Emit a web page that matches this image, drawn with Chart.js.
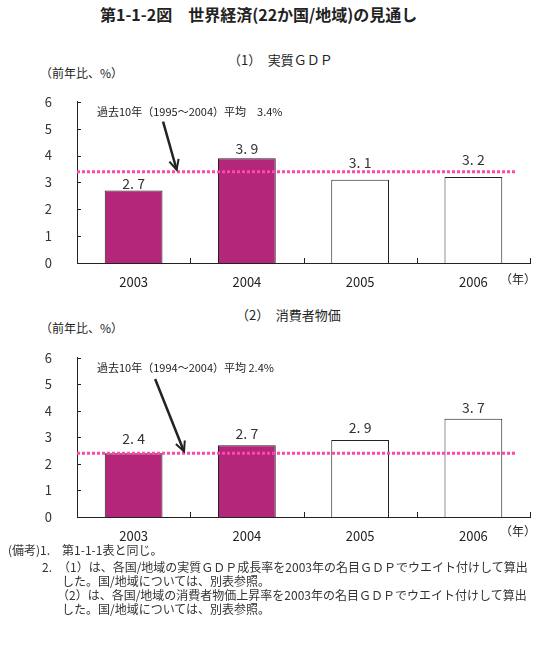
<!DOCTYPE html>
<html>
<head>
<meta charset="utf-8">
<script src="https://cdn.jsdelivr.net/npm/chart.js@4.4.1/dist/chart.umd.min.js"></script>
<style>
body { margin: 0; background: #fff; width: 537px; height: 655px; position: relative; overflow: hidden;
       font-family: "Noto Sans CJK JP", sans-serif; color: #222; }
.t { position: absolute; white-space: nowrap; line-height: 1; }
canvas { position: absolute; left: 0; }
.note { font-size: 12px; color: #333; }
</style>
</head>
<body>
<div class="t" style="left:100px;top:6px;font-size:16px;font-weight:bold">第1-1-2図　世界経済(22か国/地域)の見通し</div>

<div class="t" style="left:228px;top:53px;font-size:13px">（1）　実質ＧＤＰ</div>
<div class="t" style="left:40px;top:67px;font-size:12px">（前年比、%）</div>
<canvas id="gdp" width="537" height="223" style="top:77px"></canvas>
<div class="t" style="left:500px;top:273px;font-size:12px">（年）</div>

<div class="t" style="left:236px;top:308px;font-size:13px">（2）　消費者物価</div>
<div class="t" style="left:40px;top:322px;font-size:12px">（前年比、%）</div>
<canvas id="cpi" width="537" height="222" style="top:333px"></canvas>
<div class="t" style="left:500px;top:525px;font-size:12px">（年）</div>

<div class="t note" style="left:8px;top:544px">(備考)1.　第1-1-1表と同じ。</div>
<div class="t note" style="left:42px;top:561px">2.　（1）は、各国/地域の実質ＧＤＰ成長率を2003年の名目ＧＤＰでウエイト付けして算出</div>
<div class="t note" style="left:62px;top:575px">した。国/地域については、別表参照。</div>
<div class="t note" style="left:57px;top:589px">（2）は、各国/地域の消費者物価上昇率を2003年の名目ＧＤＰでウエイト付けして算出</div>
<div class="t note" style="left:62px;top:603px">した。国/地域については、別表参照。</div>

<script>
const years = ['2003', '2004', '2005', '2006'];
const gdpGrowth = [2.7, 3.9, 3.1, 3.2];
const cpiGrowth = [2.4, 2.7, 2.9, 3.7];
const gdpAvg = 3.4;
const cpiAvg = 2.4;
const gdpAvgText = '過去10年（1995～2004）平均　3.4%';
const cpiAvgText = '過去10年（1994～2004）平均 2.4%';
const actualYears = 2; // 2003, 2004 are results, the rest forecasts

const FONT = '"Noto Sans CJK JP", sans-serif';

// inner ticks, value labels, average line, arrow and its note
const extras = {
    id: 'extras',
    afterDatasetsDraw(chart, args, o) {
        const { ctx, chartArea: a, scales: { x, y } } = chart;
        ctx.save();
        ctx.strokeStyle = '#222';
        ctx.lineWidth = 1;
        y.ticks.forEach((t, i) => {
            const py = Math.round(y.getPixelForTick(i)) + 0.5;
            ctx.beginPath(); ctx.moveTo(a.left, py); ctx.lineTo(a.left + 4, py); ctx.stroke();
        });
        for (let i = 1; i <= years.length; i++) {
            const px = Math.round(x.getPixelForValue(i - 0.5)) + 0.5;
            ctx.beginPath(); ctx.moveTo(px, a.bottom); ctx.lineTo(px, a.bottom - 5); ctx.stroke();
        }

        // values above bars (lifted clear of the average line where needed)
        ctx.fillStyle = '#333';
        ctx.font = '14px ' + FONT;
        ctx.textAlign = 'center';
        ctx.textBaseline = 'middle';
        chart.getDatasetMeta(0).data.forEach((bar, i) => {
            const v = chart.data.datasets[0].data[i];
            ctx.fillText(v.toFixed(1).replace('.', '. '), bar.x, bar.y - o.lift[i]);
        });

        // 10-year average
        const ay = y.getPixelForValue(o.avg);
        ctx.strokeStyle = '#ff48a8';
        ctx.lineWidth = 3;
        ctx.setLineDash([3, 2]);
        ctx.beginPath(); ctx.moveTo(a.left, ay); ctx.lineTo(a.right - 14, ay); ctx.stroke();
        ctx.setLineDash([]);

        // arrow
        const x0 = x.getPixelForValue(o.arrow[0]), y0 = y.getPixelForValue(o.arrow[1]);
        const x1 = x.getPixelForValue(o.arrow[2]), y1 = y.getPixelForValue(o.arrow[3]);
        const ang = Math.atan2(y1 - y0, x1 - x0);
        ctx.strokeStyle = '#222';
        ctx.lineWidth = 2.5;
        ctx.beginPath(); ctx.moveTo(x0, y0); ctx.lineTo(x1, y1); ctx.stroke();
        ctx.lineWidth = 2;
        ctx.beginPath();
        ctx.moveTo(x1 - 11 * Math.cos(ang - 0.45), y1 - 11 * Math.sin(ang - 0.45));
        ctx.lineTo(x1, y1);
        ctx.lineTo(x1 - 11 * Math.cos(ang + 0.45), y1 - 11 * Math.sin(ang + 0.45));
        ctx.stroke();

        ctx.fillStyle = '#222';
        ctx.font = '11px ' + FONT;
        ctx.textAlign = 'left';
        ctx.textBaseline = 'middle';
        ctx.fillText(o.text, a.left + 20, a.top + 10);
        ctx.restore();
    }
};

function makeChart(id, values, avg, text, arrow, lift, areaBottom) {
    const canvas = document.getElementById(id);
    return new Chart(canvas, {
        type: 'bar',
        data: {
            labels: years,
            datasets: [{
                data: values,
                backgroundColor: c => c.dataIndex < actualYears ? '#b3267a' : '#fff',
                borderColor: '#222',
                borderWidth: 1,
                barPercentage: 0.51,
                categoryPercentage: 1
            }]
        },
        options: {
            responsive: false,
            animation: false,
            events: [],
            layout: { padding: { top: 0, right: 7, left: 0, bottom: 0 } },
            plugins: {
                legend: { display: false },
                tooltip: { enabled: false },
                extras: { avg: avg, text: text, arrow: arrow, lift: lift }
            },
            scales: {
                x: {
                    grid: { display: false },
                    border: { color: '#222' },
                    ticks: { color: '#222', font: { size: 13, family: FONT }, padding: 3 },
                    afterFit: s => { s.height = canvas.height - areaBottom; }
                },
                y: {
                    min: 0, max: 6,
                    grid: { display: false },
                    border: { color: '#222' },
                    ticks: { stepSize: 1, color: '#333', font: { size: 13, family: FONT }, padding: 17 },
                    afterFit: s => { s.width = 77; }
                }
            }
        },
        plugins: [extras]
    });
}

makeChart('gdp', gdpGrowth, gdpAvg, gdpAvgText, [0.26, 5.26, 0.38, 3.47], [7, 10, 17, 17], 186);
makeChart('cpi', cpiGrowth, cpiAvg, cpiAvgText, [0.19, 5.2, 0.445, 2.47], [15, 12, 12, 11], 184);
</script>
</body>
</html>
